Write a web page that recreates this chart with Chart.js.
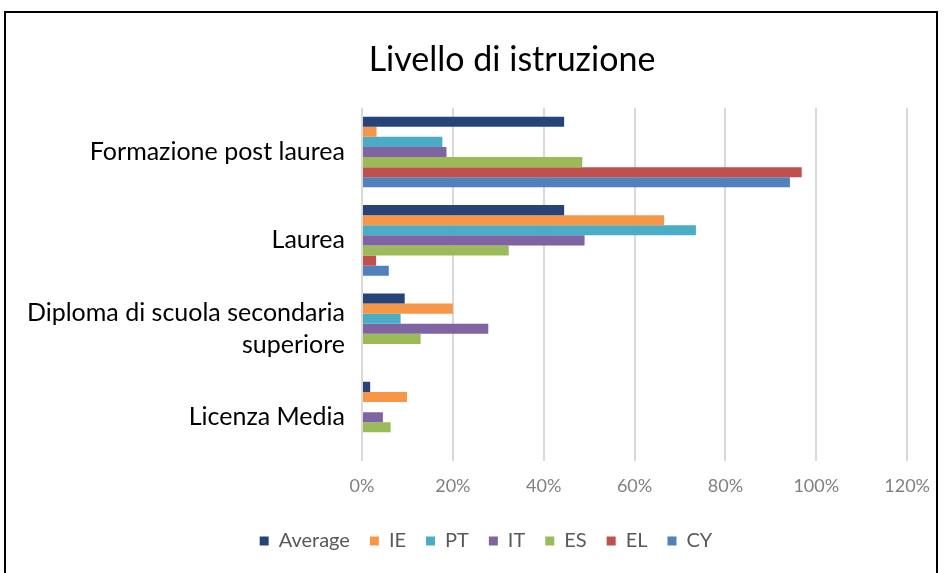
<!DOCTYPE html>
<html>
<head>
<meta charset="utf-8">
<script src="https://cdn.jsdelivr.net/npm/chart.js@4"></script>
<style>
  html, body { margin: 0; padding: 0; background: #fff; overflow: hidden; }
  #wrap { position: absolute; left: 0; top: 0; width: 944px; height: 573px; }
  #frame { position: absolute; left: 4px; top: 11px; width: 934px; height: 600px; border: 2px solid #000; box-sizing: border-box; pointer-events: none; }
</style>
</head>
<body>
<div id="wrap"><canvas id="chart" width="944" height="573"></canvas></div>
<div id="frame"></div>
<script>
// categories, top to bottom
const categories = [
  'Formazione post laurea',
  'Laurea',
  ['Diploma di scuola secondaria', 'superiore'],
  'Licenza Media'
];

// share per country (%), same order as categories
const average = [44.5, 44.5, 9.4, 1.8];
const ie = [3.2, 66.5, 20, 9.9];
const pt = [17.7, 73.5, 8.5, 0];
const it = [18.6, 49, 27.8, 4.6];
const es = [48.5, 32.3, 12.9, 6.3];
const el = [96.8, 3.1, 0, 0];
const cy = [94.2, 5.9, 0, 0];

const xTicks = [0, 20, 40, 60, 80, 100, 120];

const FONT = 'Lato, "Open Sans", sans-serif';

const series = [
  { label: 'Average', data: average, color: '#264478' },
  { label: 'IE', data: ie, color: '#F79646' },
  { label: 'PT', data: pt, color: '#4BACC6' },
  { label: 'IT', data: it, color: '#8064A2' },
  { label: 'ES', data: es, color: '#9BBB59' },
  { label: 'EL', data: el, color: '#C0504D' },
  { label: 'CY', data: cy, color: '#4F81BD' }
];

// the original centres title and legend a bit right of the canvas middle
const nudge = {
  id: 'nudge',
  afterLayout(chart) {
    chart.titleBlock.left += 50;
    chart.titleBlock.right += 50;
    chart.legend.left += 24;
    chart.legend.right += 24;
  }
};

new Chart(document.getElementById('chart'), {
  type: 'bar',
  data: {
    labels: categories,
    datasets: series.map(s => ({
      label: s.label,
      data: s.data,
      backgroundColor: s.color,
      borderWidth: 0,
      categoryPercentage: 0.8,
      barPercentage: 1.0
    }))
  },
  options: {
    indexAxis: 'y',
    responsive: false,
    animation: false,
    layout: { padding: { left: 0, right: 20, top: 20, bottom: 12 } },
    plugins: {
      title: {
        display: true,
        text: 'Livello di istruzione',
        color: '#000',
        font: { family: FONT, size: 34, weight: 'normal' },
        padding: { top: 20, bottom: 27 }
      },
      legend: {
        position: 'bottom',
        labels: {
          color: '#595959',
          font: { family: FONT, size: 20 },
          boxWidth: 9,
          boxHeight: 9,
          padding: 20
        }
      },
      tooltip: { enabled: false }
    },
    scales: {
      x: {
        min: 0,
        max: 120,
        afterBuildTicks: axis => { axis.ticks = xTicks.map(v => ({ value: v })); },
        ticks: {
          color: '#808080',
          font: { family: FONT, size: 18 },
          padding: 14,
          callback: v => v + '%'
        },
        grid: { color: '#D9D9D9', lineWidth: 2, drawTicks: false },
        border: { display: false }
      },
      y: {
        afterFit: axis => { axis.width = 362; },
        ticks: {
          color: '#000',
          font: { family: FONT, size: 25, lineHeight: 1.3 },
          padding: 9
        },
        grid: { display: false },
        border: { display: false }
      }
    }
  },
  plugins: [nudge]
});
</script>
</body>
</html>
